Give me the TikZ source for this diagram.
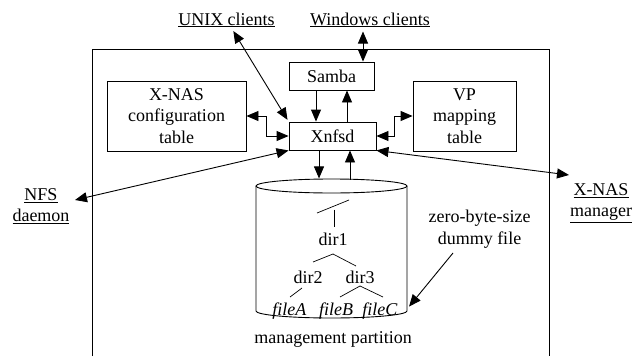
\documentclass[tikz,border=0pt]{standalone}
\usepackage{fontspec}
\setmainfont{Liberation Serif}
\usetikzlibrary{arrows.meta,calc}
\begin{document}
\begin{tikzpicture}[x=1pt,y=-1pt,line width=0.9pt,
  every node/.style={font=\fontsize{18}{21.5}\selectfont},
  box/.style={draw,line width=0.9pt,inner sep=0pt},
  lbl/.style={inner sep=0pt},
  onehead/.style={-{Triangle[length=12pt,width=10pt]}},
  twohead/.style={{Triangle[length=12pt,width=10pt]}-{Triangle[length=12pt,width=10pt]}}]
\useasboundingbox (0,0) rectangle (644,356);

% system frame (open at the bottom)
\draw (92,356) -- (92,49) -- (549,49) -- (549,356);

% boxes
\node[box,minimum width=85pt,minimum height=28pt] (samba) at (331.5,76) {Samba};
\node[box,minimum width=87pt,minimum height=28pt] (xnfsd) at (332.5,136) {Xnfsd};
\node[box,minimum width=139pt,minimum height=70pt,align=center] (config) at (176.5,116) {X-NAS\\configuration\\table};
\node[box,minimum width=103pt,minimum height=70pt,align=center] (vp) at (464.5,116) {VP\\mapping\\table};

% external parties
\node[lbl,anchor=base] (unix) at (226.5,25) {\underline{UNIX clients}};
\node[lbl,anchor=base] (win) at (370,25) {\underline{Windows clients}};
\node[lbl,align=center] (nfs) at (41,206) {\underline{NFS}\\\underline{daemon}};
\node[lbl,align=center] (mgr) at (601,203) {\underline{X-NAS}\\\underline{manager}};
\node[lbl,align=center] (zero) at (479.5,229) {zero-byte-size\\dummy file};

% management partition cylinder
\coordinate (cyl) at (331.5,186);
\draw (cyl) ellipse [x radius=75.5pt, y radius=7pt];
\draw ($(cyl)+(-75.5,0)$) -- ++(0,125)
  arc[start angle=180,end angle=360,x radius=75.5pt,y radius=7pt]
  -- ($(cyl)+(75.5,0)$);

% directory tree
\node[lbl,anchor=base] (dir1) at (333,245) {dir1};
\node[lbl,anchor=base] (dir2) at (308,283) {dir2};
\node[lbl,anchor=base] (dir3) at (360,283) {dir3};
\node[lbl,anchor=base] (fileA) at (289.5,315) {\textit{fileA}};
\node[lbl,anchor=base] (fileB) at (336,315) {\textit{fileB}};
\node[lbl,anchor=base] (fileC) at (380,315) {\textit{fileC}};
\node[lbl,anchor=base] (mgmt) at (333,343) {management partition};

\coordinate (root) at (333,206.5);
\draw[line width=0.7pt] ($(root)+(-16,6.5)$) -- ($(root)+(16,-6.5)$);
\draw[line width=0.7pt] ($(root)+(1,3)$) -- ($(dir1.base)+(1,-18)$);
\draw[line width=0.7pt] ($(dir1.base)+(0,9)$) -- ($(dir2.base)+(5,-21)$);
\draw[line width=0.7pt] ($(dir1.base)+(0,9)$) -- ($(dir3.base)+(-4,-17)$);
\draw[line width=0.7pt] ($(dir2.base)+(-6,5)$) -- ($(fileA.base)+(0.5,-18)$);
\draw[line width=0.7pt] ($(dir3.base)+(0,3)$) -- ($(fileB.base)+(4,-18)$);
\draw[line width=0.7pt] ($(dir3.base)+(0,3)$) -- ($(fileC.base)+(3,-18)$);

% connectors
\draw[twohead,shorten <=4pt,shorten >=2pt] (unix) -- (xnfsd.north west);
\coordinate (wport) at (363,31.5);
\draw[twohead] (wport) -- (wport |- samba.north);
\draw[onehead] ([xshift=-15.5pt]samba.south) -- ([xshift=-15.5pt]samba.south |- xnfsd.north);
\draw[onehead] ([xshift=15.5pt]samba.south |- xnfsd.north) -- ([xshift=15.5pt]samba.south);
\draw[twohead] (xnfsd.west) -- ++(-22,0) |- (config.east);
\draw[twohead] (xnfsd.east) -- ++(18,0) |- (vp.west);
\coordinate (nfsport) at (75,200);
\draw[twohead] (xnfsd.south west) -- (nfsport);
\coordinate (mgrport) at (569,175);
\draw[twohead] (xnfsd.south east) -- (mgrport);
\draw[onehead] ([xshift=-13.5pt]xnfsd.south) -- ++(0,28);
\draw[onehead] ([xshift=17.5pt]xnfsd.south) ++(0,29.5) -- ([xshift=17.5pt]xnfsd.south);
\coordinate (dport) at (453,253);
\draw[onehead] (dport) -- ([xshift=11pt,yshift=4pt]fileC.east);
\end{tikzpicture}
\end{document}
